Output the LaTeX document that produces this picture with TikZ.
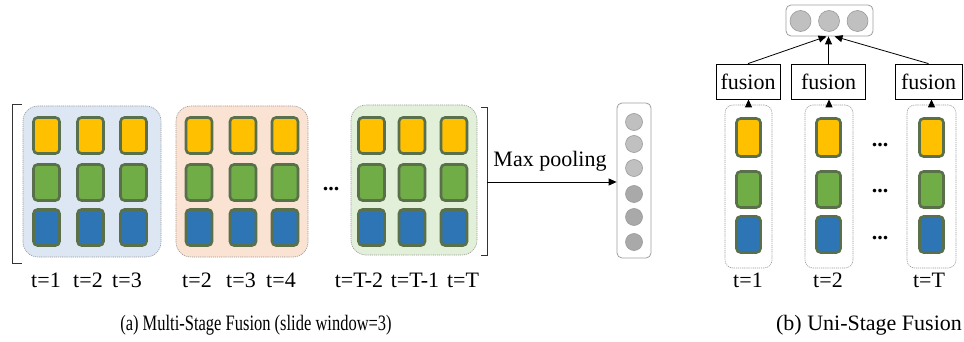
\documentclass[tikz,border=0pt]{standalone}
\usepackage{graphicx}
\usepackage{fontspec}
\setmainfont{Liberation Serif}
\usetikzlibrary{arrows.meta}
\definecolor{cY}{HTML}{FFC000}
\definecolor{cG}{HTML}{70AD47}
\definecolor{cB}{HTML}{2E75B6}
\definecolor{cEdge}{RGB}{90,112,74}
\definecolor{pBlue}{HTML}{DCE7F3}
\definecolor{pOrange}{HTML}{FBE3D3}
\definecolor{pGreen}{HTML}{E2EFD9}
\definecolor{dotA}{HTML}{C0C0C0}
\definecolor{dotB}{HTML}{A9A9A9}
\definecolor{dotEdge}{HTML}{9A9A9A}
\begin{document}
\begin{tikzpicture}[x=1pt,y=-1pt,
  font=\fontsize{22}{26}\selectfont,
  cell/.style={draw=cEdge, line width=2.6pt, rounded corners=4pt, minimum width=26pt, minimum height=36pt, inner sep=0pt},
  panel/.style={draw=gray!80, line width=0.6pt, dash pattern=on 1.2pt off 0.9pt, rounded corners=15pt, inner sep=0pt},
  column/.style={draw=gray!80, line width=0.6pt, dash pattern=on 1.2pt off 0.9pt, rounded corners=8pt, fill=white, inner sep=0pt},
  fbox/.style={draw=black, line width=0.8pt, minimum height=35pt, inner sep=0pt},
  vecbox/.style={draw=gray!75, line width=0.8pt, rounded corners=5pt, fill=white, inner sep=0pt},
  dotcell/.style={circle, draw=dotEdge, line width=0.6pt, inner sep=0pt},
  arr/.style={-{Triangle[length=8pt,width=7pt]}, line width=0.8pt, black},
  lbl/.style={anchor=base, inner sep=0pt},
  bracket/.style={draw=black!80, line width=0.9pt}
]
\useasboundingbox (0,0) rectangle (964,342);

% ---------- (a) Multi-Stage Fusion ----------
\node[panel, fill=pBlue, minimum width=138pt, minimum height=151pt] (P1) at (92,181.5) {};
\node[panel, fill=pOrange, minimum width=132pt, minimum height=151pt] (P2) at (242,181.5) {};
\node[panel, fill=pGreen, minimum width=126pt, minimum height=150pt] (P3) at (414,180) {};

\foreach \p/\xa/\xb/\xc in {1/46.5/90.5/133.5, 2/199/243/285, 3/371.5/412/454}{
  \foreach \x [count=\i] in {\xa,\xb,\xc}{
    \node[cell, fill=cY] (c\p-\i-1) at (\x,135.5) {};
    \node[cell, fill=cG] (c\p-\i-2) at (\x,182.5) {};
    \node[cell, fill=cB] (c\p-\i-3) at (\x,227.5) {};
  }
}

\node[lbl] (dotsA) at (331,190) {\textbf{...}};

\node[lbl] (t11) at (46,287) {t=1};
\node[lbl] (t12) at (88,287) {t=2};
\node[lbl] (t13) at (127,287) {t=3};
\node[lbl] (t21) at (197,287) {t=2};
\node[lbl] (t22) at (241,287) {t=3};
\node[lbl] (t23) at (281,287) {t=4};
\node[lbl] (t31) at (359,287) {t=T-2};
\node[lbl] (t32) at (415,287) {t=T-1};
\node[lbl] (t33) at (463,287) {t=T};

% brackets
\draw[bracket] (22,104) -- (12,104) -- (12,263) -- (22,263);
\draw[bracket] (481,107) -- (487,107) -- (487,255) -- (481,255);

% pooled vector
\node[vecbox, minimum width=34pt, minimum height=155pt] (V) at (634,180.5) {};
\foreach \y [count=\i] in {122,144,168,194,217,242}{
  \ifnum\i<4
    \node[dotcell, fill=dotA, minimum size=17pt] (v\i) at (634,\y) {};
  \else
    \node[dotcell, fill=dotB, minimum size=17pt] (v\i) at (634,\y) {};
  \fi
}
\coordinate (br) at (487,182);
\draw[arr] (br) -- (br -| V.west);
\node[lbl] (mp) at (550,167) {Max pooling};

\node[lbl] (capA) at (256,330) {\scalebox{0.75}[1]{(a) Multi-Stage Fusion (slide window=3)}};

% ---------- (b) Uni-Stage Fusion ----------
\node[vecbox, minimum width=87pt, minimum height=31pt] (top) at (829.5,20.5) {};
\node[dotcell, fill=dotA, minimum size=21pt] (u1) at (800.5,21) {};
\node[dotcell, fill=dotA, minimum size=21pt] (u2) at (829,21) {};
\node[dotcell, fill=dotA, minimum size=21pt] (u3) at (857.5,21) {};

\node[fbox, minimum width=64pt] (f1) at (748,81.5) {fusion};
\node[fbox, minimum width=74pt] (f2) at (828.5,81.5) {fusion};
\node[fbox, minimum width=67pt] (f3) at (928.5,81.5) {fusion};

\node[column, minimum width=47pt, minimum height=163pt] (k1) at (748.5,186.5) {};
\node[column, minimum width=48pt, minimum height=163pt] (k2) at (829,186.5) {};
\node[column, minimum width=49pt, minimum height=163pt] (k3) at (931.5,186.5) {};

\foreach \x [count=\i] in {748.5,828.5,931.5}{
  \node[cell, fill=cY, minimum width=24pt, minimum height=38pt] (r\i-1) at (\x,137.5) {};
  \node[cell, fill=cG, minimum width=24pt, minimum height=36pt] (r\i-2) at (\x,189.5) {};
  \node[cell, fill=cB, minimum width=24pt, minimum height=36pt] (r\i-3) at (\x,234.5) {};
}

\node[lbl] (d1) at (880,147) {\textbf{...}};
\node[lbl] (d2) at (880,192) {\textbf{...}};
\node[lbl] (d3) at (880,239) {\textbf{...}};

\draw[arr] (k1.north) -- (k1.north |- f1.south);
\draw[arr] (k2.north) -- (k2.north |- f2.south);
\draw[arr] (k3.north) -- (k3.north |- f3.south);

\draw[arr] (f1.north) -- ([xshift=-3pt]top.south);
\draw[arr] (f2.north) -- (f2.north |- top.south);
\draw[arr] (f3.north) -- ([xshift=5pt]top.south);

\node[lbl] (s1) at (748,287) {t=1};
\node[lbl] (s2) at (828,287) {t=2};
\node[lbl] (s3) at (929,287) {t=T};

\node[lbl] (capB) at (869,330) {(b) Uni-Stage Fusion};
\end{tikzpicture}
\end{document}
